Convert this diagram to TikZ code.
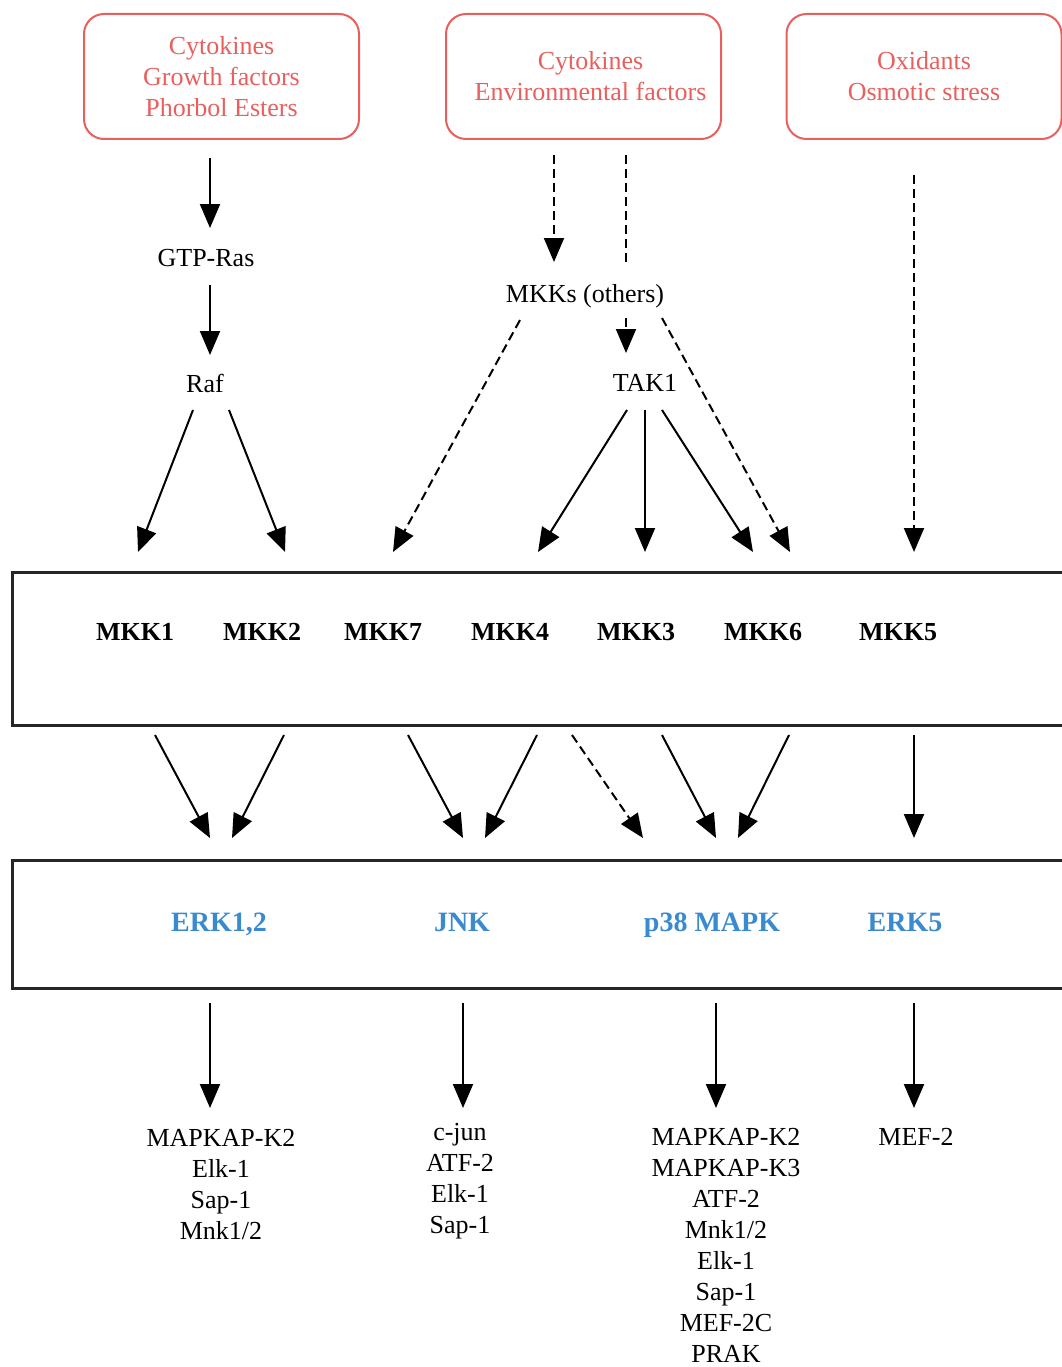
\documentclass[tikz,border=0pt]{standalone}
\usepackage{fontspec}
\setmainfont{Liberation Serif}
\usepackage{xcolor}
\usepackage{tikz}
\usetikzlibrary{arrows.meta, positioning}

\definecolor{stimred}{RGB}{232,96,94}
\definecolor{mapkblue}{RGB}{58,138,208}

\begin{document}
\begin{tikzpicture}[
  x=1pt, y=-1pt,
  >={Triangle[length=24pt,width=20pt]},
  every node/.style={font=\fontsize{26}{31}\selectfont, inner sep=0pt},
  stimulus/.style={draw=stimred, line width=2pt, rounded corners=20pt, text=stimred,
    align=center, minimum width=275pt, minimum height=125pt},
  layer/.style={draw=black!85, line width=3pt, minimum width=1063pt},
  kinase/.style={font=\fontsize{26}{31}\selectfont\bfseries},
  mapk/.style={font=\fontsize{28}{31}\selectfont\bfseries, text=mapkblue, anchor=base},
  target/.style={align=center, anchor=north},
  link/.style={->, line width=2pt},
  weak/.style={link, dash pattern=on 9pt off 5pt}
]
\clip (0,0) rectangle (1062,1367);

% stimuli
\node[stimulus] (src-growth) at (221.5,76.5) {Cytokines\\Growth factors\\Phorbol Esters};
\node[stimulus] (src-env) at (583.5,76.5) {\hspace*{14pt}Cytokines\\\hspace*{14pt}Environmental factors};
\node[stimulus] (src-stress) at (924,76.5) {Oxidants\\Osmotic stress};

% upstream kinases
\node (gtp) at (206,258) {GTP-Ras};
\node (raf) at (205,383) {Raf};
\node[anchor=base] (mkks) at (585,302) {MKKs (others)};
\node (tak1) at (645,383) {TAK1};

% MAPKK layer
\node[layer, minimum height=153pt] (mkk-layer) at (543.5,648.5) {};
\node[kinase] (mkk1) at (135,632) {MKK1};
\node[kinase] (mkk2) at (262,632) {MKK2};
\node[kinase] (mkk7) at (383,632) {MKK7};
\node[kinase] (mkk4) at (510,632) {MKK4};
\node[kinase] (mkk3) at (636,632) {MKK3};
\node[kinase] (mkk6) at (763,632) {MKK6};
\node[kinase] (mkk5) at (898,632) {MKK5};

% MAPK layer
\node[layer, minimum height=128pt] (mapk-layer) at (543.5,924) {};
\node[mapk] (erk12) at (219,931) {ERK1,2};
\node[mapk] (jnk) at (462,931) {JNK};
\node[mapk] (p38) at (712,931) {p38 MAPK};
\node[mapk] (erk5) at (905,931) {ERK5};

% substrates
\node[target] (erk12-sub) at (221,1129) {MAPKAP-K2\\Elk-1\\Sap-1\\Mnk1/2};
\node[target] (jnk-sub) at (460,1123) {c-jun\\ATF-2\\Elk-1\\Sap-1};
\node[target] (p38-sub) at (726,1128) {MAPKAP-K2\\MAPKAP-K3\\ATF-2\\Mnk1/2\\Elk-1\\Sap-1\\MEF-2C\\PRAK};
\node[target] (erk5-sub) at (916,1128) {MEF-2};

% arrow ends
\coordinate (growth-out) at (210,158);
\coordinate (gtp-in) at (210,228);
\coordinate (gtp-out) at (210,285);
\coordinate (raf-in) at (210,355);
\coordinate (raf-out-l) at (193,410);
\coordinate (raf-out-r) at (229,410);
\coordinate (env-out-l) at (554,155);
\coordinate (env-out-r) at (626,155);
\coordinate (mkks-in) at (554,262);
\coordinate (mkks-pass) at (626,265);
\coordinate (mkks-out-l) at (520,320);
\coordinate (mkks-out-m) at (626,318);
\coordinate (mkks-out-r) at (662,318);
\coordinate (tak1-in) at (626,353);
\coordinate (tak1-out-l) at (627,410);
\coordinate (tak1-out-m) at (645,410);
\coordinate (tak1-out-r) at (662,410);
\coordinate (stress-out) at (914,175);
\coordinate (mkk1-in) at (138,552);
\coordinate (mkk2-in) at (285,552);
\coordinate (mkk7-in) at (393,552);
\coordinate (mkk4-in) at (538,552);
\coordinate (mkk3-in) at (645,552);
\coordinate (mkk6-in-a) at (753,552);
\coordinate (mkk6-in-b) at (790,552);
\coordinate (mkk5-in) at (914,552);

\draw[link] (growth-out) -- (gtp-in);
\draw[link] (gtp-out) -- (raf-in);
\draw[link] (raf-out-l) -- (mkk1-in);
\draw[link] (raf-out-r) -- (mkk2-in);
\draw[weak] (env-out-l) -- (mkks-in);
\draw[line width=2pt, dash pattern=on 9pt off 5pt] (env-out-r) -- (mkks-pass);
\draw[weak] (mkks-out-l) -- (mkk7-in);
\draw[weak] (mkks-out-m) -- (tak1-in);
\draw[weak] (mkks-out-r) -- (mkk6-in-b);
\draw[link] (tak1-out-l) -- (mkk4-in);
\draw[link] (tak1-out-m) -- (mkk3-in);
\draw[link] (tak1-out-r) -- (mkk6-in-a);
\draw[weak] (stress-out) -- (mkk5-in);

% MAPKK -> MAPK
\coordinate (mkk1-out) at (155,735);
\coordinate (mkk2-out) at (284,735);
\coordinate (mkk7-out) at (408,735);
\coordinate (mkk4-out-a) at (537,735);
\coordinate (mkk4-out-b) at (572,735);
\coordinate (mkk3-out) at (662,735);
\coordinate (mkk6-out) at (789,735);
\coordinate (mkk5-out) at (914,735);
\coordinate (erk12-in-l) at (210,838);
\coordinate (erk12-in-r) at (232,838);
\coordinate (jnk-in-l) at (463,838);
\coordinate (jnk-in-r) at (485,838);
\coordinate (p38-in-a) at (643,838);
\coordinate (p38-in-l) at (716,838);
\coordinate (p38-in-r) at (738,838);
\coordinate (erk5-in) at (914,838);

\draw[link] (mkk1-out) -- (erk12-in-l);
\draw[link] (mkk2-out) -- (erk12-in-r);
\draw[link] (mkk7-out) -- (jnk-in-l);
\draw[link] (mkk4-out-a) -- (jnk-in-r);
\draw[weak] (mkk4-out-b) -- (p38-in-a);
\draw[link] (mkk3-out) -- (p38-in-l);
\draw[link] (mkk6-out) -- (p38-in-r);
\draw[link] (mkk5-out) -- (erk5-in);

% MAPK -> substrates
\coordinate (erk12-out) at (210,1003);
\coordinate (jnk-out) at (463,1003);
\coordinate (p38-out) at (716,1003);
\coordinate (erk5-out) at (914,1003);
\coordinate (erk12-sub-in) at (210,1108);
\coordinate (jnk-sub-in) at (463,1108);
\coordinate (p38-sub-in) at (716,1108);
\coordinate (erk5-sub-in) at (914,1108);
\draw[link] (erk12-out) -- (erk12-sub-in);
\draw[link] (jnk-out) -- (jnk-sub-in);
\draw[link] (p38-out) -- (p38-sub-in);
\draw[link] (erk5-out) -- (erk5-sub-in);
\end{tikzpicture}
\end{document}
